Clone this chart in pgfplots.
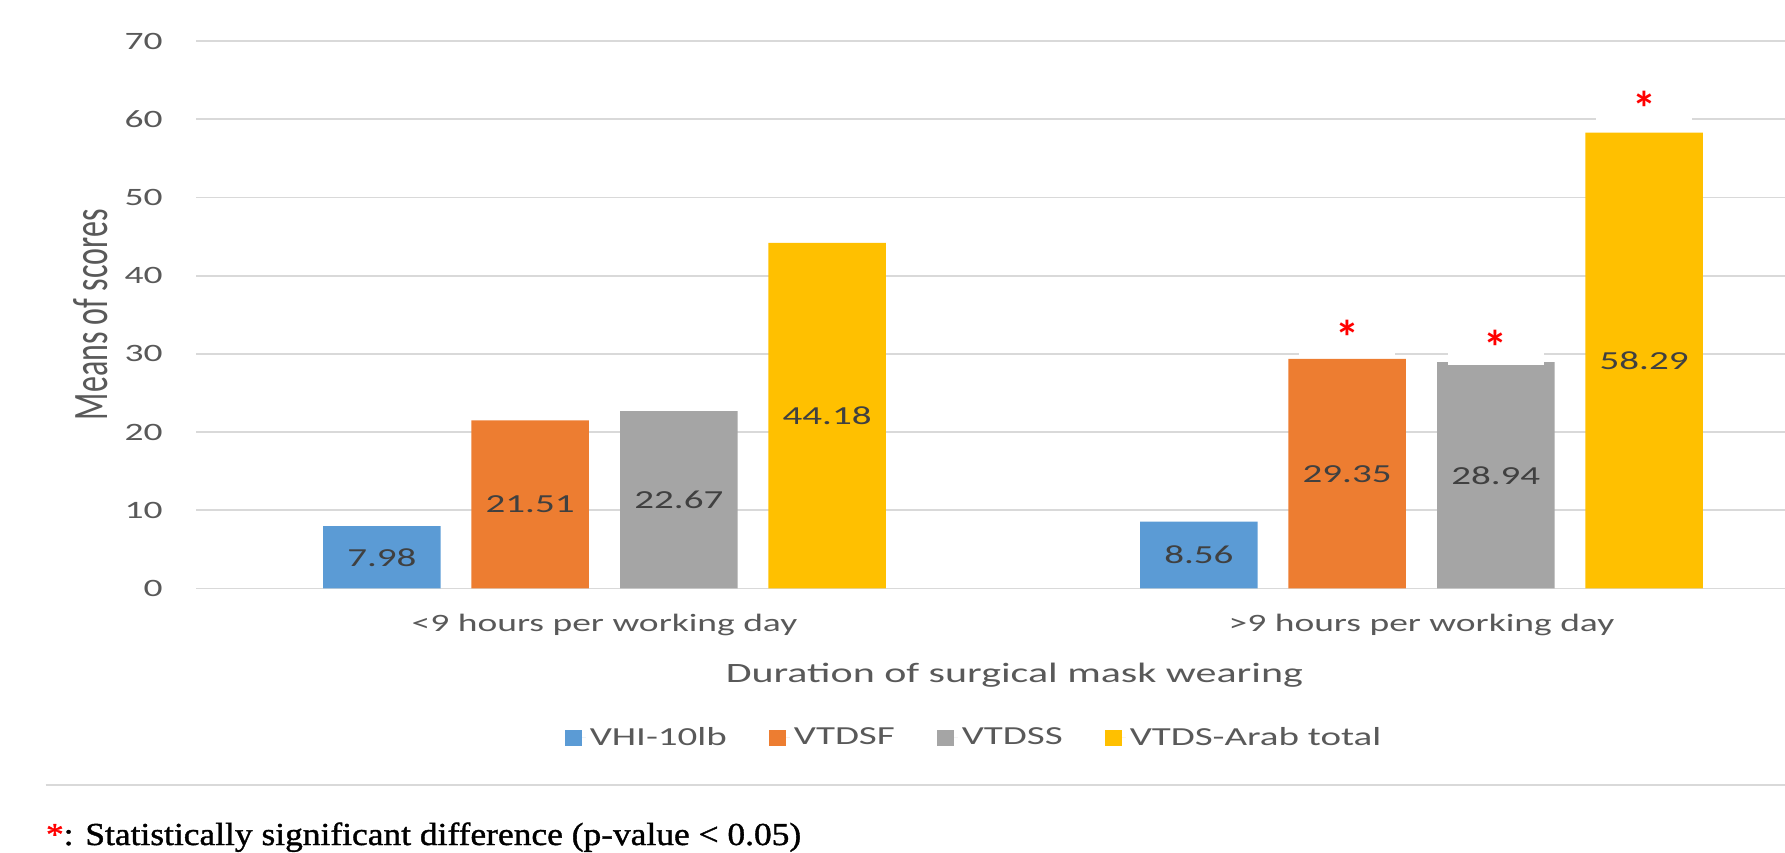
\documentclass[border=0pt]{standalone}
\usepackage{pgfplots}
\pgfplotsset{compat=1.18}
\usepackage{graphicx}
\usepackage{fontspec}
\setmainfont[FakeStretch=1.5]{Carlito}
\newfontfamily\plainfont{Carlito}
\newfontfamily\footfont[FakeStretch=1.107,FakeBold=1.2]{Liberation Serif}
\definecolor{cblue}{HTML}{5B9BD5}
\definecolor{corange}{HTML}{ED7D31}
\definecolor{cgray}{HTML}{A5A5A5}
\definecolor{cyellow}{HTML}{FFC000}
\definecolor{tickc}{HTML}{595959}
\definecolor{labc}{HTML}{404040}
\definecolor{gridc}{HTML}{D9D9D9}
\newcommand\ytickfont{\fontsize{12.5bp}{15bp}\selectfont}
\newcommand\xtickfont{\fontsize{12.5bp}{15bp}\selectfont}
\newcommand\xlabfont{\fontsize{14bp}{17bp}\selectfont}
\newcommand\legfont{\fontsize{13bp}{16bp}\selectfont}
\newcommand\barlabfont{\fontsize{13bp}{16bp}\selectfont}
\newcommand\ylabfont{\plainfont\fontsize{16bp}{19bp}\selectfont}
\newcommand\starfont{\plainfont\bfseries\fontsize{24bp}{28bp}\selectfont}
\begin{document}
\begin{tikzpicture}
\useasboundingbox (0,0) rectangle (892.5bp,426.5bp);
\clip (0,0) rectangle (892.5bp,426.5bp);
\begin{axis}[
  at={(98bp,132.25bp)}, anchor=south west,
  scale only axis, width=794.5bp, height=273.75bp,
  xmin=-0.5, xmax=1.445, ymin=0, ymax=70,
  ytick={0,10,20,30,40,50,60,70},
  xtick={0,1},
  xticklabels={{<9 hours per working day},{>9 hours per working day}},
  /pgf/number format/assume math mode=true,
  axis line style={draw=none},
  major tick length=0pt,
  ymajorgrids, grid style={color=gridc, line width=0.9bp},
  yticklabel style={anchor=east, inner sep=0pt, xshift=-16.5bp, font=\ytickfont, text=tickc},
  xticklabel style={anchor=center, inner sep=0pt, yshift=-18bp, font=\xtickfont, text=tickc},
  xlabel={Duration of surgical mask wearing},
  xlabel style={at={(axis description cs:0.515,-0.158)}, anchor=center, font=\xlabfont, text=tickc},
  ylabel={\scalebox{1}[1.55]{\ylabfont Means of scores}},
  ylabel style={at={(axis description cs:-0.066,0.5)}, anchor=center, text=tickc},
  legend style={at={(axis description cs:0.4903,-0.273)}, anchor=center, draw=none, fill=none,
    font=\legfont, text=tickc, /tikz/every even column/.append style={column sep=19bp}},
  legend columns=4,
  legend image code/.code={\fill[#1] (0.5bp,-3.9bp) rectangle (9bp,3.9bp); \path (9bp,0) -- (11bp,0);},
]
% significance stars (white label boxes drawn first, so that bars lie over them)
\addplot[forget plot, draw=none, mark=none, nodes near coords={\starfont *},
  nodes near coords style={anchor=center, fill=white, text=red, minimum width=48bp, minimum height=14bp, inner sep=0pt}]
  coordinates {(0.909,32.1) (1.091,30.8) (1.2725,61.4)};
\addplot[ybar, bar width=0.1438, bar shift=0pt, fill=cblue, draw=none]
  coordinates {(-0.2725,7.98) (0.7275,8.56)};
\addlegendentry{VHI-10lb}
\addplot[ybar, bar width=0.1438, bar shift=0pt, fill=corange, draw=none]
  coordinates {(-0.091,21.51) (0.909,29.35)};
\addlegendentry{VTDSF}
\addplot[ybar, bar width=0.1438, bar shift=0pt, fill=cgray, draw=none]
  coordinates {(0.091,22.67) (1.091,28.94)};
\addlegendentry{VTDSS}
\addplot[ybar, bar width=0.1438, bar shift=0pt, fill=cyellow, draw=none]
  coordinates {(0.2725,44.18) (1.2725,58.29)};
\addlegendentry{VTDS-Arab total}
% value labels at bar centres
\addplot[forget plot, draw=none, mark=none, nodes near coords, point meta=explicit symbolic,
  nodes near coords style={anchor=center, font=\barlabfont, text=labc}]
  coordinates {(-0.2725,3.99) [7.98] (-0.091,10.755) [21.51] (0.091,11.335) [22.67] (0.2725,22.09) [44.18]
               (0.7275,4.28) [8.56] (0.909,14.675) [29.35] (1.091,14.47) [28.94] (1.2725,29.145) [58.29]};
\end{axis}
\draw[color=gridc, line width=1bp] (22.8bp,34bp) -- (892.5bp,34bp);
\node[anchor=base west, inner sep=0pt] at (22.8bp,4bp)
  {\footfont\fontsize{16bp}{19bp}\selectfont{\color{red}*}: Statistically significant difference (p-value < 0.05)};
\end{tikzpicture}
\end{document}
